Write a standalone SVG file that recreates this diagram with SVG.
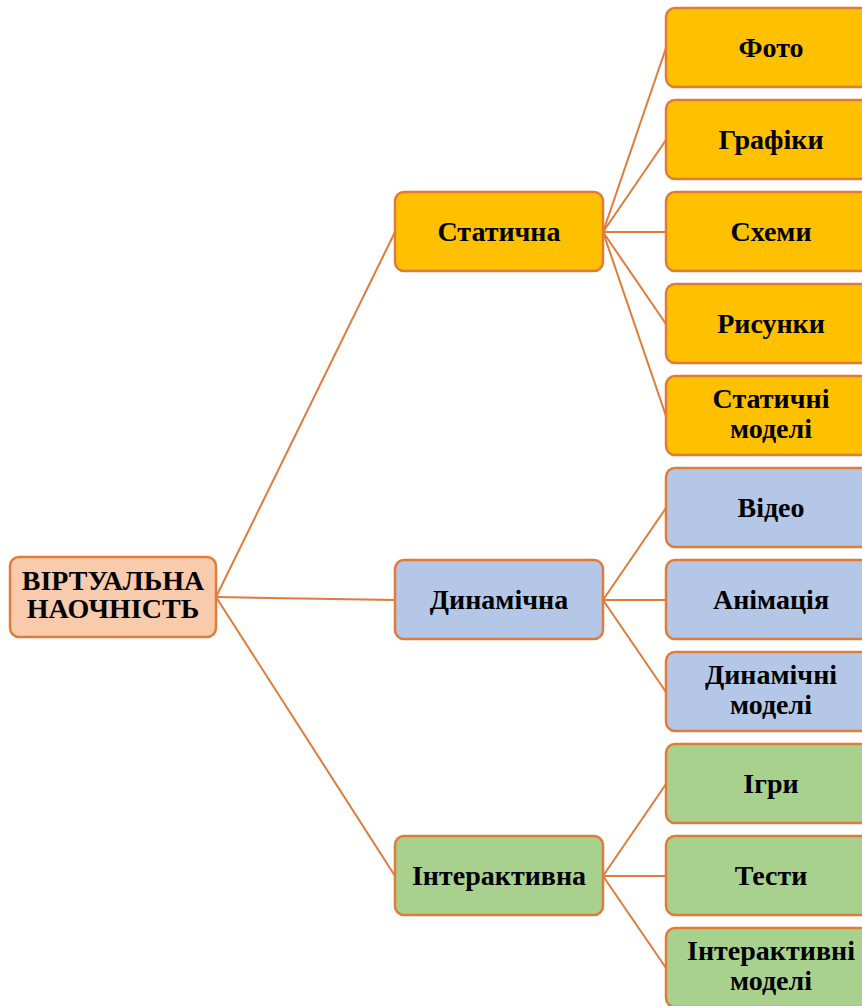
<svg xmlns="http://www.w3.org/2000/svg" width="862" height="1006" viewBox="0 0 862 1006">
  <style>
    .node rect { stroke: #E07B39; stroke-width: 2.5; }
    .root rect { fill: #F8CBAD; }
    .gold rect { fill: #FFC000; }
    .blue rect { fill: #B4C7E7; }
    .green rect { fill: #A9D18E; }
    .node text { font-family: "Liberation Serif", "Times New Roman", serif; font-weight: bold; font-size: 28px; fill: #000; text-anchor: middle; }
    #connectors line { stroke: #E07B39; stroke-width: 2; }
  </style>
  <rect width="862" height="1006" fill="#fff"/>

  <!-- connectors -->
  <g id="connectors">
    <line x1="216" y1="597" x2="395" y2="232"/>
    <line x1="216" y1="597" x2="395" y2="600"/>
    <line x1="216" y1="597" x2="395" y2="876"/>

    <line x1="603" y1="232" x2="666" y2="48"/>
    <line x1="603" y1="232" x2="666" y2="140"/>
    <line x1="603" y1="232" x2="666" y2="232"/>
    <line x1="603" y1="232" x2="666" y2="324"/>
    <line x1="603" y1="232" x2="666" y2="416"/>

    <line x1="603" y1="600" x2="666" y2="508"/>
    <line x1="603" y1="600" x2="666" y2="600"/>
    <line x1="603" y1="600" x2="666" y2="692"/>

    <line x1="603" y1="876" x2="666" y2="784"/>
    <line x1="603" y1="876" x2="666" y2="876"/>
    <line x1="603" y1="876" x2="666" y2="968"/>
  </g>

  <!-- root -->
  <g id="root" class="node root">
    <rect x="10" y="557" width="206" height="80" rx="9"/>
    <text x="113" y="590">ВІРТУАЛЬНА</text>
    <text x="113" y="618">НАОЧНІСТЬ</text>
  </g>

  <!-- level 1 -->
  <g id="static" class="node gold">
    <rect x="395" y="192" width="208" height="79" rx="9"/>
    <text x="499" y="241">Статична</text>
  </g>
  <g id="dynamic" class="node blue">
    <rect x="395" y="560" width="208" height="79" rx="9"/>
    <text x="499" y="609">Динамічна</text>
  </g>
  <g id="interactive" class="node green">
    <rect x="395" y="836" width="208" height="79" rx="9"/>
    <text x="499" y="885">Інтерактивна</text>
  </g>

  <!-- level 2: static -->
  <g id="photo" class="node gold">
    <rect x="666" y="8" width="210" height="79" rx="9"/>
    <text x="771" y="57">Фото</text>
  </g>
  <g id="graphs" class="node gold">
    <rect x="666" y="100" width="210" height="79" rx="9"/>
    <text x="771" y="149">Графіки</text>
  </g>
  <g id="schemes" class="node gold">
    <rect x="666" y="192" width="210" height="79" rx="9"/>
    <text x="771" y="241">Схеми</text>
  </g>
  <g id="drawings" class="node gold">
    <rect x="666" y="284" width="210" height="79" rx="9"/>
    <text x="771" y="333">Рисунки</text>
  </g>
  <g id="static-models" class="node gold">
    <rect x="666" y="376" width="210" height="79" rx="9"/>
    <text x="771" y="408">Статичні</text>
    <text x="771" y="438">моделі</text>
  </g>

  <!-- level 2: dynamic -->
  <g id="video" class="node blue">
    <rect x="666" y="468" width="210" height="79" rx="9"/>
    <text x="771" y="517">Відео</text>
  </g>
  <g id="animation" class="node blue">
    <rect x="666" y="560" width="210" height="79" rx="9"/>
    <text x="771" y="609">Анімація</text>
  </g>
  <g id="dynamic-models" class="node blue">
    <rect x="666" y="652" width="210" height="79" rx="9"/>
    <text x="771" y="684">Динамічні</text>
    <text x="771" y="714">моделі</text>
  </g>

  <!-- level 2: interactive -->
  <g id="games" class="node green">
    <rect x="666" y="744" width="210" height="79" rx="9"/>
    <text x="771" y="793">Ігри</text>
  </g>
  <g id="tests" class="node green">
    <rect x="666" y="836" width="210" height="79" rx="9"/>
    <text x="771" y="885">Тести</text>
  </g>
  <g id="interactive-models" class="node green">
    <rect x="666" y="928" width="210" height="79" rx="9"/>
    <text x="771" y="960">Інтерактивні</text>
    <text x="771" y="990">моделі</text>
  </g>
</svg>
